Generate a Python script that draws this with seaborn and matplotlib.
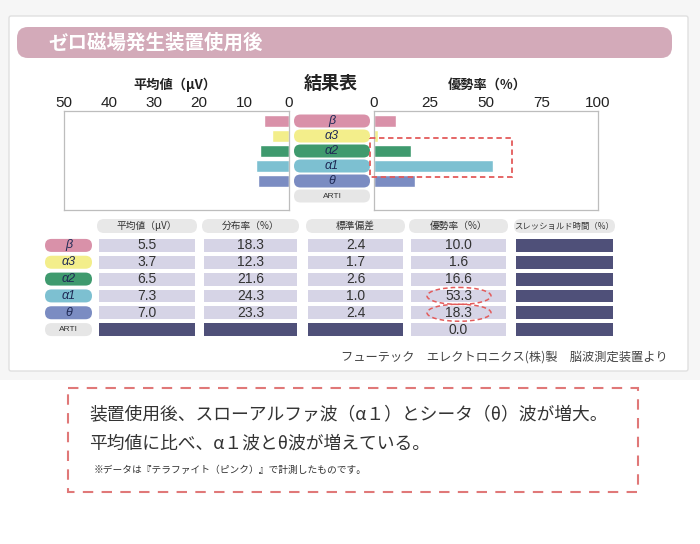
import numpy as np
import pandas as pd
import matplotlib
matplotlib.use('Agg')
import matplotlib.pyplot as plt
from matplotlib.patches import FancyBboxPatch, Rectangle, Ellipse
from matplotlib.colors import ListedColormap
import seaborn as sns

sns.set_theme(style='white')
plt.rcParams['font.family'] = ['Noto Sans CJK JP', 'DejaVu Sans']

# datos
bandas = ['β', 'α3', 'α2', 'α1', 'θ', 'ARTI']
media_uv = [5.5, 3.7, 6.5, 7.3, 7.0, np.nan]
distribucion = [18.3, 12.3, 21.6, 24.3, 23.3, np.nan]
desvio = [2.4, 1.7, 2.6, 1.0, 2.4, np.nan]
dominancia = [10.0, 1.6, 16.6, 53.3, 18.3, 0.0]
umbral = [np.nan] * 6

cols_tabla = ['平均値（μV）', '分布率（%）', '標準偏差', '優勢率（%）', 'スレッショルド時間（%）']
ticks_izq = [50, 40, 30, 20, 10, 0]
ticks_der = [0, 25, 50, 75, 100]

cores = ['#d991a9', '#f3ee8b', '#3f9a6e', '#7dc0d1', '#7b8cc2', '#e6e6e6']
claro = '#d6d4e6'
escuro = '#4f5079'
num_font = ['Liberation Sans', 'DejaVu Sans']

W, H = 700, 544
fig = plt.figure(figsize=(7, 5.44), dpi=100)
fig.patch.set_facecolor('white')


def rect(x0, y0, x1, y1):
    # pixeles -> fraccion de figura
    return [x0 / W, 1 - y1 / H, (x1 - x0) / W, (y1 - y0) / H]


bg = fig.add_axes([0, 0, 1, 1], zorder=0)
bg.set_xlim(0, W)
bg.set_ylim(H, 0)
bg.axis('off')

# fondo gris claro y tarjeta
bg.add_patch(Rectangle((0, 0), W, 380, fc='#f6f6f6', ec='none'))
bg.add_patch(FancyBboxPatch((9, 16), 679, 355, boxstyle='round,pad=0,rounding_size=2',
                            fc='white', ec='#e0e0e0', lw=1))
bg.add_patch(FancyBboxPatch((17, 27), 655, 31, boxstyle='round,pad=0,rounding_size=11',
                            fc='#d3aab9', ec='none'))
bg.text(48, 43, 'ゼロ磁場発生装置使用後', color='white', fontsize=14, fontweight='bold',
        ha='left', va='center')

bg.text(175, 85, '平均値（μV）', fontsize=9.5, fontweight='bold', ha='center', va='center', color='#222')
bg.text(331, 83, '結果表', fontsize=13, fontweight='bold', ha='center', va='center', color='#222')
bg.text(487, 85, '優勢率（%）', fontsize=9.5, fontweight='bold', ha='center', va='center', color='#222')

# etiquetas centrales
filas_graf = [121, 136, 151, 166, 181, 196]
for b, c, yc in zip(bandas, cores, filas_graf):
    bg.add_patch(FancyBboxPatch((294, yc - 6.5), 76, 13, boxstyle='round,pad=0,rounding_size=6.5',
                                fc=c, ec='none'))
    if b == 'ARTI':
        bg.text(332, yc, b, fontsize=6, ha='center', va='center', color='#333', family=num_font)
    else:
        bg.text(332, yc, b, fontsize=9, ha='center', va='center', color='#1f2a55',
                style='italic', family=num_font)

# graficos de barras
df = pd.DataFrame({'banda': bandas, 'media': media_uv, 'dom': dominancia})

ax_l = fig.add_axes(rect(64, 111, 289, 210), zorder=1)
sns.barplot(data=df.dropna(subset=['media']), x='media', y='banda', hue='banda', order=bandas,
            hue_order=bandas, palette=cores, legend=False, width=0.78, saturation=1, ax=ax_l)
ax_l.set_xlim(50, 0)

ax_r = fig.add_axes(rect(374, 111, 598, 210), zorder=1)
sns.barplot(data=df, x='dom', y='banda', hue='banda', order=bandas, hue_order=bandas,
            palette=cores, legend=False, width=0.78, saturation=1, ax=ax_r)
ax_r.set_xlim(0, 100)

for ax, tk in [(ax_l, ticks_izq), (ax_r, ticks_der)]:
    ax.set_ylim(5.93, -0.67)
    ax.set_facecolor('none')
    ax.set_xlabel('')
    ax.set_ylabel('')
    ax.set_yticks([])
    ax.set_xticks(tk)
    ax.xaxis.tick_top()
    ax.tick_params(axis='x', length=0, pad=1, labelsize=11, labelcolor='#222')
    for lb in ax.get_xticklabels():
        lb.set_family(num_font)
    for s in ax.spines.values():
        s.set_color('#bdbdbd')
        s.set_linewidth(0.9)

# tabla
limites = [(97, 197), (202, 299), (306, 405), (409, 508), (514, 615)]
valores = [media_uv, distribucion, desvio, dominancia, umbral]
y_top, y_bot = 237, 338
alto = (y_bot - y_top) / 6
filas_tab = [y_top + alto * (i + 0.5) for i in range(6)]

for (x0, x1), nome, vals in zip(limites, cols_tabla, valores):
    bg.add_patch(FancyBboxPatch((x0, 219), x1 - x0, 14, boxstyle='round,pad=0,rounding_size=7',
                                fc='#e8e8e8', ec='none'))
    fs = 6 if len(nome) > 8 else 7
    bg.text((x0 + x1) / 2, 226, nome, fontsize=fs, ha='center', va='center', color='#333')
    arr = np.array(vals, dtype=float)
    codigo = np.isnan(arr).astype(int).reshape(-1, 1)
    textos = np.array(['' if np.isnan(v) else f'{v:.1f}' for v in arr]).reshape(-1, 1)
    axt = fig.add_axes(rect(x0, y_top, x1, y_bot), zorder=1)
    sns.heatmap(codigo, annot=textos, fmt='', cmap=ListedColormap([claro, escuro]), vmin=0, vmax=1,
                cbar=False, linewidths=1.6, linecolor='white', xticklabels=False, yticklabels=False,
                annot_kws={'fontsize': 10, 'color': '#333', 'family': num_font}, ax=axt)

for b, c, yc in zip(bandas, cores, filas_tab):
    bg.add_patch(FancyBboxPatch((45, yc - 6.5), 47, 13, boxstyle='round,pad=0,rounding_size=6.5',
                                fc=c, ec='none'))
    if b == 'ARTI':
        bg.text(68.5, yc, b, fontsize=6, ha='center', va='center', color='#333', family=num_font)
    else:
        bg.text(68.5, yc, b, fontsize=9, ha='center', va='center', color='#1f2a55',
                style='italic', family=num_font)

bg.text(668, 357, 'フューテック　エレクトロニクス(株)製　脳波測定装置より', fontsize=8.8,
        ha='right', va='center', color='#444')

# marcas rojas
fg = fig.add_axes([0, 0, 1, 1], zorder=5)
fg.set_xlim(0, W)
fg.set_ylim(H, 0)
fg.axis('off')
rojo = '#e35b5b'
fg.add_patch(Rectangle((370, 138), 142, 39, fill=False, ec=rojo, lw=1.3, ls=(0, (3, 2))))
for yc in [filas_tab[3], filas_tab[4]]:
    fg.add_patch(Ellipse((459, yc), 64, 17, fill=False, ec=rojo, lw=1.1, ls=(0, (3, 2))))

fg.add_patch(Rectangle((68, 388), 570, 104, fill=False, ec='#e07878', lw=1.5, ls=(0, (5, 4))))
fg.text(89, 415, '装置使用後、スローアルファ波（α１）とシータ（θ）波が増大。', fontsize=12.8,
        ha='left', va='center', color='#333')
fg.text(89, 444, '平均値に比べ、α１波とθ波が増えている。', fontsize=12.8,
        ha='left', va='center', color='#333')
fg.text(94, 470, '※データは『テラファイト（ピンク）』で計測したものです。', fontsize=7,
        ha='left', va='center', color='#333')

fig.savefig('out.png', dpi=100, facecolor=fig.get_facecolor())
